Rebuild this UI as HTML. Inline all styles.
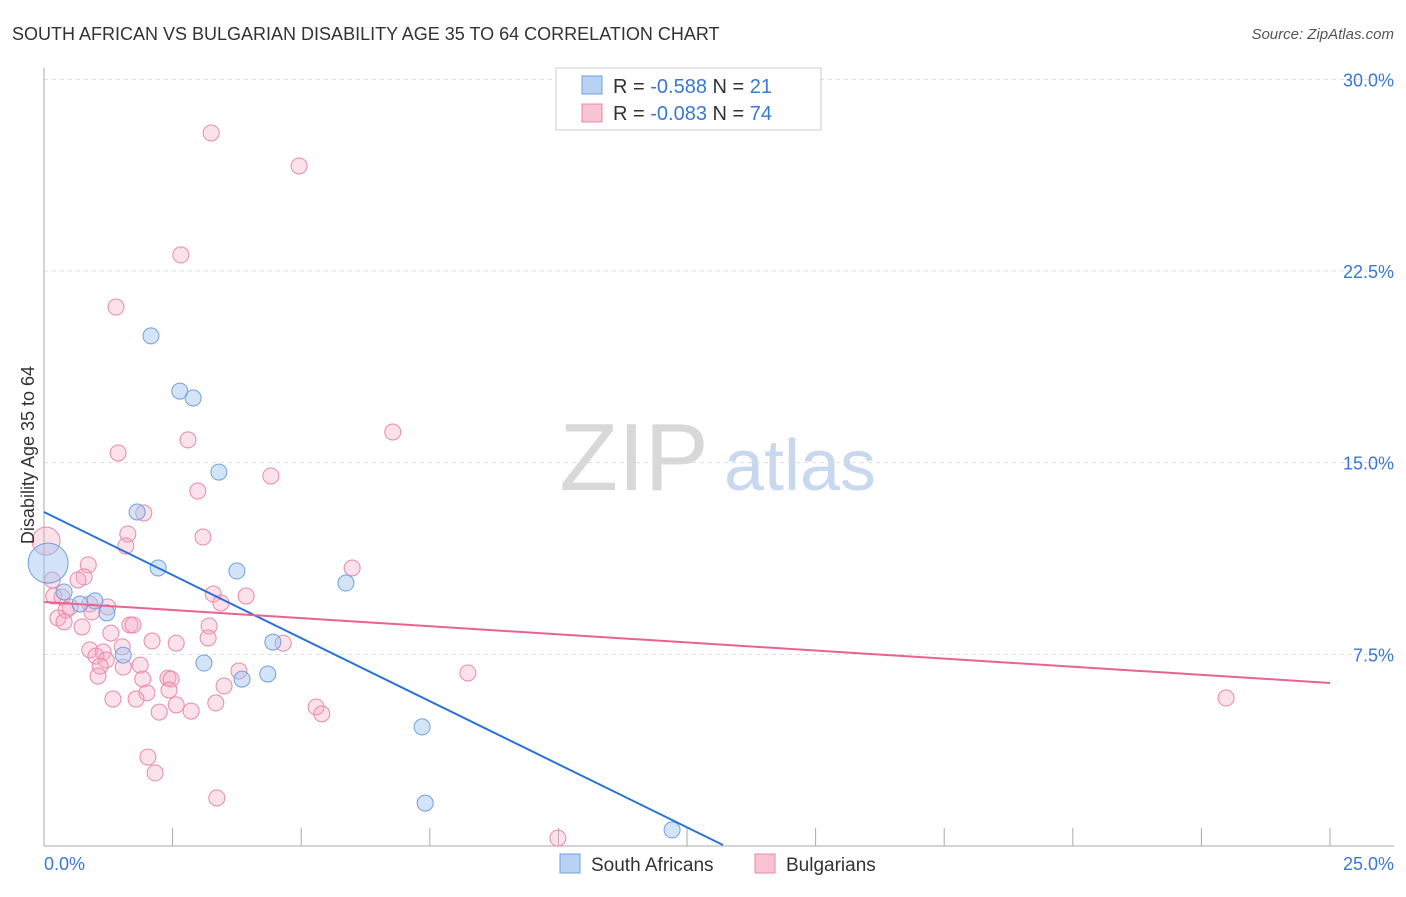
<!DOCTYPE html>
<html><head><meta charset="utf-8"><style>
body{margin:0;background:#fff;font-family:"Liberation Sans",sans-serif}
svg text{font-family:"Liberation Sans",sans-serif}
</style></head><body>
<svg id="chart" width="1406" height="892" xmlns="http://www.w3.org/2000/svg">
<text x="12" y="40" font-size="18" fill="#333">SOUTH AFRICAN VS BULGARIAN DISABILITY AGE 35 TO 64 CORRELATION CHART</text>
<text x="1394" y="39" font-size="15" fill="#555" font-style="italic" text-anchor="end">Source: ZipAtlas.com</text>
<text x="634" y="490" font-size="96" fill="#d8d8d8" font-family="Liberation Serif" text-anchor="middle">ZIP</text>
<text x="800" y="490" font-size="72" fill="#c8d8ee" text-anchor="middle">atlas</text>
<g id="grid"></g><g id="axes"></g><g id="pts"></g><g id="lines"></g>
<text x="34" y="455" font-size="18" fill="#333" text-anchor="middle" transform="rotate(-90 34 455)">Disability Age 35 to 64</text>
<text x="44" y="870" font-size="18" fill="#3a78d4">0.0%</text>
<text x="1394" y="870" font-size="18" fill="#3a78d4" text-anchor="end">25.0%</text>
<g>
<rect x="556" y="68" width="265" height="62" fill="#fff" stroke="#ccc"/>
<rect x="582" y="76" width="20" height="18" fill="#b8d2f4" stroke="#6fa0e0"/>
<text x="613" y="93" font-size="20" fill="#333">R = <tspan fill="#3a78d4">-0.588</tspan>  N = <tspan fill="#3a78d4">21</tspan></text>
<rect x="582" y="104" width="20" height="18" fill="#f8c4d4" stroke="#e88aa8"/>
<text x="613" y="120" font-size="20" fill="#333">R = <tspan fill="#3a78d4">-0.083</tspan>  N = <tspan fill="#3a78d4">74</tspan></text>
</g>
<g>
<rect x="560" y="854" width="20" height="19" fill="#b8d2f4" stroke="#6fa0e0"/>
<text x="591" y="871" font-size="19" fill="#333">South Africans</text>
<rect x="755" y="854" width="20" height="19" fill="#f8c4d4" stroke="#e88aa8"/>
<text x="786" y="871" font-size="19" fill="#333">Bulgarians</text>
</g>
</svg>
<script>
const yTicks=[7.5,15,22.5,30];
const yTickLabels=["7.5%","15.0%","22.5%","30.0%"];
const xTicks=[0,2.5,5,7.5,10,12.5,15,17.5,20,22.5,25];
const saX=[2.08,2.64,2.90,3.40,1.81,2.22,3.75,5.87,0.39,0.99,1.22,4.45,1.54,3.11,3.85,4.35,7.35,7.41,12.21,0.08,0.70];
const saY=[19.96,17.80,17.53,14.63,13.07,10.88,10.76,10.29,9.94,9.59,9.12,7.98,7.47,7.16,6.53,6.73,4.66,1.68,0.63,11.07,9.47];
const bgX=[3.25,4.96,2.66,1.40,6.78,2.80,1.44,4.41,2.99,1.94,3.09,1.63,1.59,5.99,0.86,0.78,0.66,0.16,0.04,0.19,0.35,3.29,3.93,3.44,1.24,0.51,0.89,0.43,0.93,0.27,0.39,0.74,3.21,1.67,1.73,1.30,2.10,3.19,2.57,4.65,1.52,0.89,1.15,1.01,1.21,1.87,1.54,1.09,3.79,8.24,2.41,1.92,1.05,2.47,3.50,2.00,2.43,1.34,1.79,3.34,2.57,2.86,2.24,5.29,5.40,22.98,2.02,2.16,3.36,9.99];
const bgY=[27.90,26.61,23.13,21.09,16.20,15.89,15.38,14.48,13.89,13.03,12.09,12.21,11.74,10.88,11.00,10.53,10.41,10.41,11.93,9.78,9.74,9.86,9.78,9.51,9.35,9.35,9.47,9.23,9.16,8.92,8.77,8.57,8.61,8.65,8.65,8.33,8.02,8.14,7.94,7.94,7.79,7.67,7.59,7.43,7.28,7.08,7.00,7.04,6.85,6.77,6.57,6.53,6.65,6.53,6.26,5.99,6.10,5.75,5.75,5.60,5.52,5.28,5.24,5.44,5.17,5.79,3.48,2.86,1.88,0.31];
const saTrend=[[0,13.07],[13.2,0.04]];
const bgTrend=[[0,9.55],[25,6.38]];
const sx=v=>44+v/25*1286, sy=v=>846-v/7.5*191.67;
const NS="http://www.w3.org/2000/svg";
function mk(t,a,p){const e=document.createElementNS(NS,t);for(const k in a)e.setAttribute(k,a[k]);document.getElementById(p).appendChild(e);return e;}
yTicks.forEach((t,i)=>{
 const g=mk('line',{x1:44,x2:1394,y1:sy(t),y2:sy(t),stroke:'#ddd','stroke-dasharray':'4,4'},'grid');
 
 
 const l=mk('text',{x:1394,y:sy(t)+7,'font-size':18,fill:'#3a78d4','text-anchor':'end'},'grid');
 l.textContent=yTickLabels[i];
 
 
});
const ax=mk('line',{x1:44,x2:44,y1:68,y2:846,stroke:'#aaa'},'axes');


const bx=mk('line',{x1:44,x2:1394,y1:846,y2:846,stroke:'#aaa'},'axes');


xTicks.forEach(t=>{
 const k=mk('line',{x1:sx(t),x2:sx(t),y1:828,y2:846,stroke:'#aaa'},'axes');
 
 
});
bgX.forEach((x,i)=>{
 const c=mk('circle',{cx:sx(x),cy:sy(bgY[i]),r:i==18?14:8,fill:'rgba(244,170,196,0.35)',stroke:'#e88aa8','stroke-width':1},'pts');
 
 
});
saX.forEach((x,i)=>{
 const c=mk('circle',{cx:sx(x),cy:sy(saY[i]),r:i==19?20:8,fill:'rgba(160,196,240,0.45)',stroke:'#6fa0e0','stroke-width':1},'pts');
 
 
});
const l1=mk('line',{x1:sx(saTrend[0][0]),y1:sy(saTrend[0][1]),x2:sx(saTrend[1][0]),y2:sy(saTrend[1][1]),stroke:'#2a72d8','stroke-width':2},'lines');


const l2=mk('line',{x1:sx(bgTrend[0][0]),y1:sy(bgTrend[0][1]),x2:sx(bgTrend[1][0]),y2:sy(bgTrend[1][1]),stroke:'#e8648e','stroke-width':2},'lines');


</script>
</body></html>
